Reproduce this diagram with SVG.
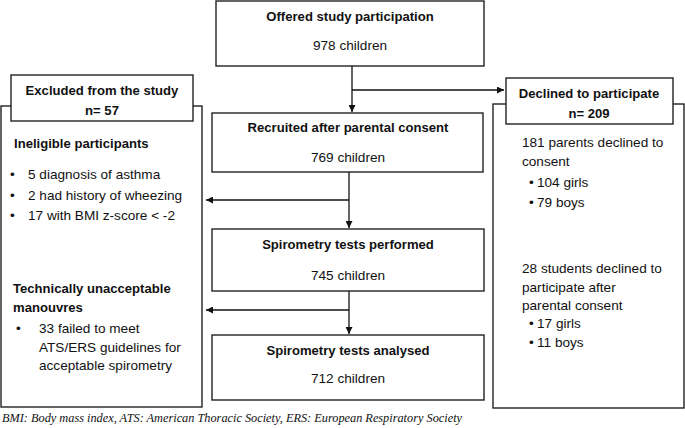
<svg xmlns="http://www.w3.org/2000/svg" width="685" height="428" viewBox="0 0 685 428">
<defs>
<marker id="ah" viewBox="0 0 10 10" refX="10" refY="5" markerWidth="7" markerHeight="7" markerUnits="userSpaceOnUse" orient="auto">
<path d="M0,0 L10,5 L0,10 z" fill="#111"/>
</marker>
<style>
rect{fill:#fff;stroke:#222;stroke-width:1.4}
text{font-family:"Liberation Sans",Arial,sans-serif;font-size:13.6px;fill:#111}
.b{font-weight:bold;font-size:13.1px}
.c{text-anchor:middle}
.con line{stroke:#111;stroke-width:1.3}
.foot{font-family:"Liberation Serif","Times New Roman",serif;font-style:italic;font-size:12.3px}
</style>
</defs>
<rect width="685" height="428" style="fill:#fff;stroke:none"/>
<g id="excluded">
<rect x="1" y="106" width="201" height="301"/>
<rect x="11" y="75" width="182" height="46"/>
<text class="b c" x="102" y="95">Excluded from the study</text>
<text class="b c" x="102" y="115">n= 57</text>
<text class="b" x="14" y="148">Ineligible participants</text>
<text x="10" y="179">•</text><text x="28" y="179">5 diagnosis of asthma</text>
<text x="10" y="200">•</text><text x="28" y="200">2 had history of wheezing</text>
<text x="10" y="220">•</text><text x="28" y="220">17 with BMI z-score &lt; -2</text>
<text class="b" x="13" y="293">Technically unacceptable</text>
<text class="b" x="13" y="312">manouvres</text>
<text x="16" y="333">•</text><text x="39" y="333">33 failed to meet</text>
<text x="39" y="352">ATS/ERS guidelines for</text>
<text x="39" y="370">acceptable spirometry</text>
</g>
<g id="declined">
<rect x="493" y="104" width="191" height="304"/>
<rect x="506" y="78" width="167" height="46"/>
<text class="b c" x="589" y="98">Declined to participate</text>
<text class="b c" x="589" y="118">n= 209</text>
<text x="522" y="147">181 parents declined to</text>
<text x="522" y="166">consent</text>
<text x="529" y="187">•</text><text x="537" y="187">104 girls</text>
<text x="529" y="207">•</text><text x="537" y="207">79 boys</text>
<text x="522" y="273">28 students declined to</text>
<text x="522" y="292">participate after</text>
<text x="522" y="310">parental consent</text>
<text x="529" y="328">•</text><text x="537" y="328">17 girls</text>
<text x="529" y="347">•</text><text x="537" y="347">11 boys</text>
</g>
<g id="offered">
<rect x="216" y="1" width="268" height="65"/>
<text class="b c" x="350" y="21">Offered study participation</text>
<text class="c" x="350" y="50">978 children</text>
</g>
<g id="recruited">
<rect x="212" y="113" width="271" height="59"/>
<text class="b c" x="348" y="132">Recruited after parental consent</text>
<text class="c" x="348" y="162">769 children</text>
</g>
<g id="performed">
<rect x="212" y="229" width="272" height="62"/>
<text class="b c" x="348" y="249">Spirometry tests performed</text>
<text class="c" x="348" y="280">745 children</text>
</g>
<g id="analysed">
<rect x="212" y="335" width="272" height="65"/>
<text class="b c" x="348" y="355">Spirometry tests analysed</text>
<text class="c" x="348" y="383">712 children</text>
</g>
<g class="con" id="connectors">
<line x1="352" y1="66" x2="352" y2="112" marker-end="url(#ah)"/>
<line x1="352" y1="90" x2="504" y2="90" marker-end="url(#ah)"/>
<line x1="349" y1="172" x2="349" y2="228" marker-end="url(#ah)"/>
<line x1="349" y1="200" x2="206" y2="200" marker-end="url(#ah)"/>
<line x1="349" y1="291" x2="349" y2="334" marker-end="url(#ah)"/>
<line x1="349" y1="310" x2="206" y2="310" marker-end="url(#ah)"/>
</g>
<text class="foot" x="2" y="422">BMI: Body mass index, ATS: American Thoracic Society, ERS: European Respiratory Society</text>
</svg>
